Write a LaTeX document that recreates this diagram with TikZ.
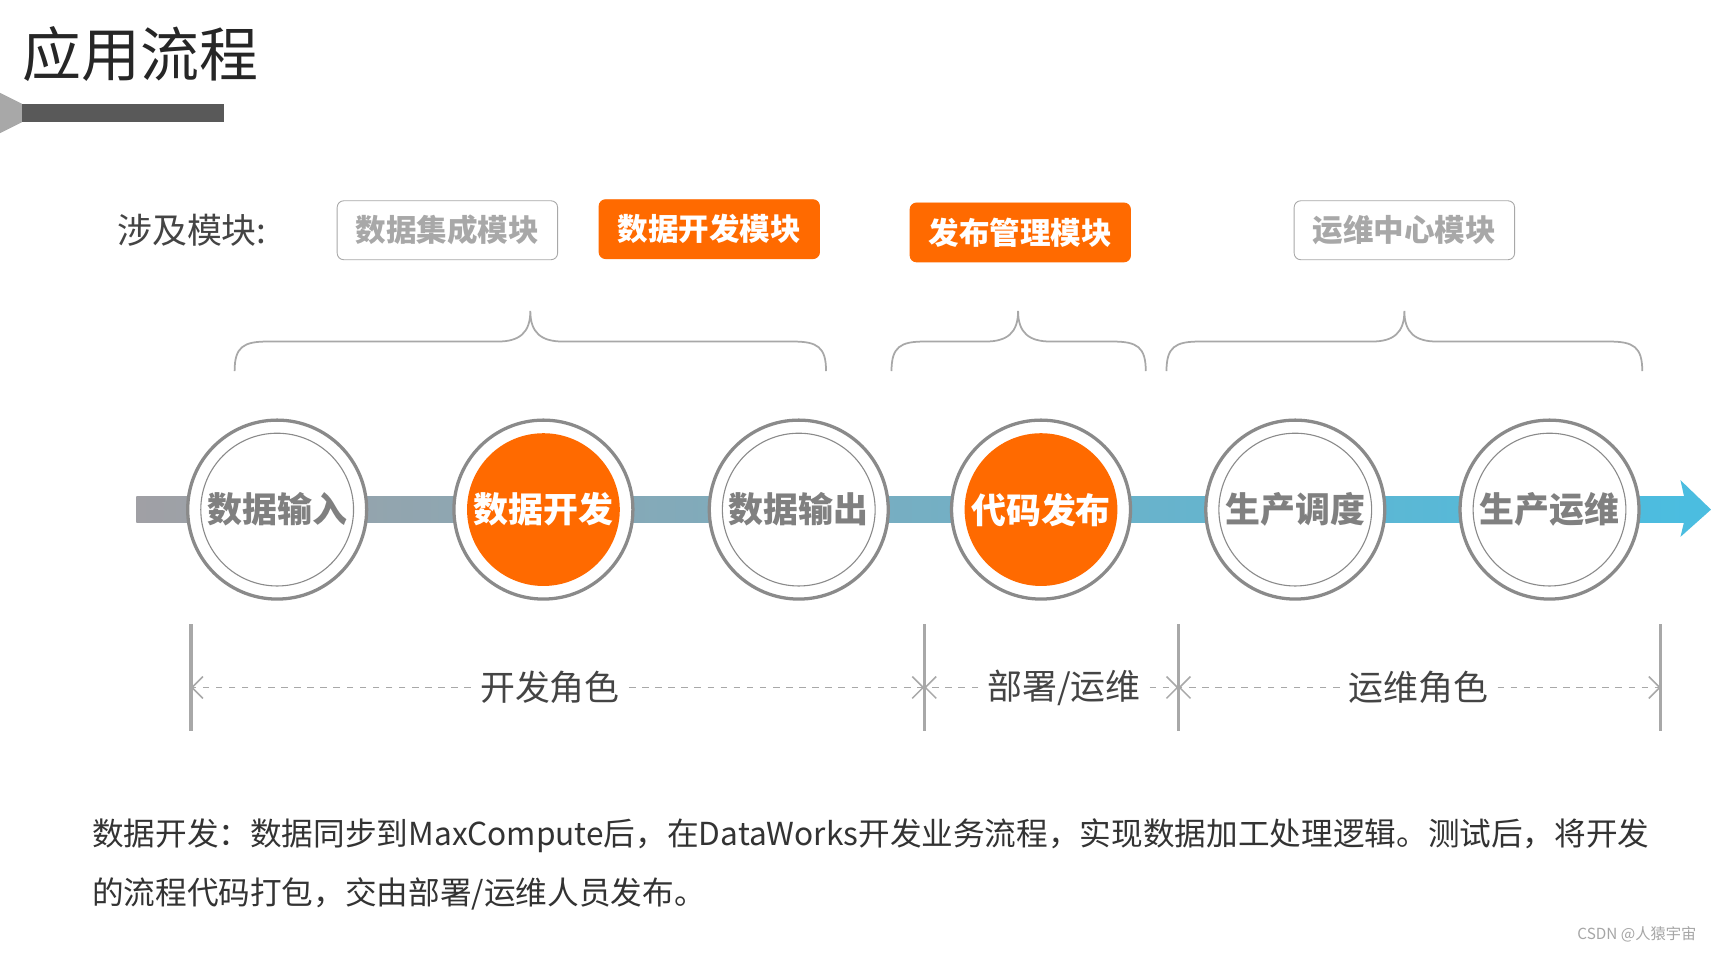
\documentclass[tikz,border=0pt]{standalone}
\usepackage{fontspec}
\setmainfont{Noto Sans CJK SC}
\usetikzlibrary{arrows.meta}
\definecolor{org}{HTML}{FF6A00}
\definecolor{ring}{HTML}{8A8A8A}
\definecolor{txt}{HTML}{444444}
\definecolor{lgr}{HTML}{A8A8A8}
\definecolor{barL}{RGB}{160,160,165}
\definecolor{barR}{RGB}{75,189,224}
\tikzset{
  obox/.style={draw=org,fill=org,rounded corners=3pt,minimum width=101pt,minimum height=27pt,text=white,font=\bfseries\fontsize{14}{14}\selectfont},
  gbox/.style={draw=lgr,fill=white,rounded corners=3pt,minimum width=101pt,minimum height=27pt,text=lgr,font=\bfseries\fontsize{14}{14}\selectfont},
  outer/.style={circle,draw=ring,line width=1.5pt,fill=white,minimum size=82pt,inner sep=0pt},
  inW/.style={circle,draw=ring,line width=0.5pt,fill=white,minimum size=70pt,inner sep=0pt,text=gray,font=\bfseries\fontsize{16}{16}\selectfont},
  inO/.style={circle,fill=org,minimum size=70pt,inner sep=0pt,text=white,font=\bfseries\fontsize{16}{16}\selectfont},
  brace/.style={draw=lgr,line width=0.8pt},
  vline/.style={draw=lgr,line width=1.5pt},
  role/.style={dashed,draw=lgr,line width=0.7pt,-{Straight Barb[length=5pt]}},
  rlab/.style={fill=white,inner sep=4pt,text=txt,font=\fontsize{16}{16}\selectfont},
}
\begin{document}
\begin{tikzpicture}[x=0.5pt,y=-0.5pt]
\useasboundingbox (0,0) rectangle (1568,873);
\fill[white] (0,0) rectangle (1568,873);
% title
\node[anchor=west,text=black!85,font=\fontsize{27}{27}\selectfont,inner sep=0] (title) at (20,50) {应用流程};
\fill[black!65] (20,95) rectangle (205,112);
\fill[lgr] (0,85) -- (20,95) -- (20,112) -- (0,122) -- cycle;
% modules
\node[anchor=west,text=txt,font=\fontsize{16}{16}\selectfont,inner sep=0] (mod) at (107,211) {涉及模块:};
\node[gbox] (b1) at (410,211) {数据集成模块};
\node[obox] (b2) at (650,210) {数据开发模块};
\node[obox] (b3) at (935,213) {发布管理模块};
\node[gbox] (b4) at (1287,211) {运维中心模块};
% braces
\foreach \a/\m/\b in {215/486/757, 817/933/1050, 1069/1287/1505}{
  \draw[brace] (\a,340) .. controls (\a,318) and (\a+8,313) .. (\a+30,313) -- (\m-30,313) .. controls (\m-10,313) and (\m,305) .. (\m,285)
     .. controls (\m,305) and (\m+10,313) .. (\m+30,313) -- (\b-30,313) .. controls (\b-8,313) and (\b,318) .. (\b,340);
}
% bar
\shade[left color=barL, right color=barR] (125,455) rectangle (1546,479);
\fill[barR] (1540,440) -- (1568,467) -- (1540,492) -- (1546,467) -- cycle;
% circles
\foreach \x/\t/\s [count=\i] in {254/数据输入/inW, 498/数据开发/inO, 732/数据输出/inW, 954/代码发布/inO, 1187/生产调度/inW, 1420/生产运维/inW}{
  \node[outer] (o\i) at (\x,467) {};
  \node[\s] (c\i) at (\x,467) {\t};
}
% roles
\foreach \x [count=\i] in {175,847,1080,1522}{
  \coordinate (t\i) at (\x,572); \coordinate (u\i) at (\x,670); \coordinate (m\i) at (\x,630);
  \draw[vline] (t\i) -- (u\i);
}
\node[rlab] (r1) at (504,630) {开发角色};
\node[rlab] (r2) at (975,630) {部署/运维};
\node[rlab] (r3) at (1300,630) {运维角色};
\draw[role] (r1.west) -- (m1);
\draw[role] (r1.east) -- (m2);
\draw[role] (r2.west) -- (m2);
\draw[role] (r2.east) -- (m3);
\draw[role] (r3.west) -- (m3);
\draw[role] (r3.east) -- (m4);
% description
\node[anchor=west,text=black!80,font=\fontsize{14.5}{14.5}\selectfont,inner sep=0] (d1) at (84,766) {数据开发：数据同步到MaxCompute后，在DataWorks开发业务流程，实现数据加工处理逻辑。测试后，将开发};
\node[anchor=west,text=black!80,font=\fontsize{14.5}{14.5}\selectfont,inner sep=0] (d2) at (84,819) {的流程代码打包，交由部署/运维人员发布。};
\node[anchor=east,text=black!35,font=\fontsize{7}{7}\selectfont,inner sep=0] (wm) at (1555,856) {CSDN @人猿宇宙};
\end{tikzpicture}
\end{document}
